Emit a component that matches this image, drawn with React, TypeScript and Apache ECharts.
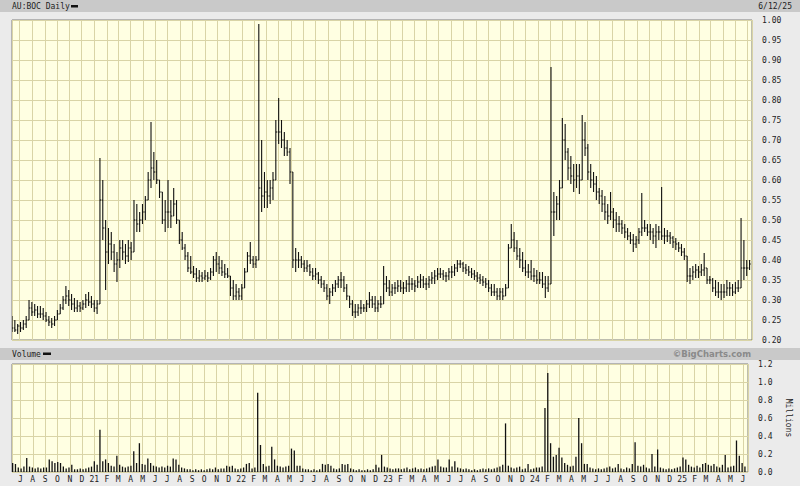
import React, { useEffect, useRef } from "react";
import * as echarts from "echarts";

// Weekly bars (week 0 = 2020-06-12, step 7 days)
const weekHigh = [
  0.26, 0.25, 0.24, 0.245, 0.25, 0.26, 0.30, 0.295, 0.29, 0.285,
  0.285, 0.28, 0.27, 0.26, 0.255, 0.26, 0.275, 0.29, 0.31, 0.335,
  0.325, 0.315, 0.305, 0.30, 0.295, 0.30, 0.315, 0.32, 0.31, 0.30,
  0.30, 0.655, 0.60, 0.50, 0.48, 0.47, 0.44, 0.42, 0.45, 0.45,
  0.44, 0.45, 0.445, 0.55, 0.54, 0.52, 0.54, 0.56, 0.62, 0.745,
  0.67, 0.65, 0.60, 0.56, 0.55, 0.60, 0.55, 0.58, 0.55, 0.50,
  0.47, 0.44, 0.42, 0.41, 0.385, 0.38, 0.375, 0.37, 0.375, 0.37,
  0.38, 0.41, 0.42, 0.41, 0.40, 0.39, 0.38, 0.36, 0.35, 0.34,
  0.33, 0.34, 0.38, 0.42, 0.445, 0.41, 0.41, 0.99, 0.70, 0.62,
  0.60, 0.60, 0.62, 0.75, 0.805, 0.75, 0.72, 0.70, 0.68, 0.60,
  0.43, 0.42, 0.41, 0.40, 0.40, 0.39, 0.38, 0.38, 0.37, 0.36,
  0.35, 0.34, 0.33, 0.34, 0.35, 0.36, 0.37, 0.36, 0.34, 0.31,
  0.30, 0.29, 0.29, 0.30, 0.29, 0.30, 0.32, 0.31, 0.31, 0.30,
  0.31, 0.385, 0.36, 0.35, 0.34, 0.345, 0.35, 0.35, 0.345, 0.35,
  0.36, 0.355, 0.35, 0.36, 0.365, 0.36, 0.355, 0.36, 0.37, 0.375,
  0.38, 0.38, 0.375, 0.37, 0.38, 0.385, 0.39, 0.40, 0.40, 0.395,
  0.39, 0.385, 0.38, 0.375, 0.37, 0.365, 0.36, 0.355, 0.35, 0.34,
  0.34, 0.33, 0.33, 0.33, 0.34, 0.44, 0.49, 0.47, 0.45, 0.43,
  0.42, 0.40, 0.39, 0.40, 0.38, 0.375, 0.37, 0.37, 0.36, 0.36,
  0.8825, 0.57, 0.56, 0.60, 0.755, 0.74, 0.68, 0.66, 0.64, 0.64,
  0.64, 0.7625, 0.745, 0.69, 0.64, 0.62, 0.61, 0.58, 0.575, 0.56,
  0.54, 0.57, 0.53, 0.52, 0.51, 0.50, 0.49, 0.48, 0.47, 0.465,
  0.46, 0.48, 0.5675, 0.50, 0.49, 0.49, 0.48, 0.49, 0.485, 0.5825,
  0.48, 0.475, 0.47, 0.46, 0.455, 0.445, 0.44, 0.43, 0.40, 0.38,
  0.385, 0.39, 0.385, 0.39, 0.4175, 0.37, 0.36, 0.355, 0.35, 0.345,
  0.34, 0.34, 0.35, 0.345, 0.34, 0.345, 0.35, 0.505, 0.45, 0.40, 0.40,
];
const weekLow = [
  0.22, 0.22, 0.215, 0.22, 0.225, 0.23, 0.25, 0.26, 0.26, 0.255,
  0.255, 0.25, 0.245, 0.235, 0.23, 0.235, 0.255, 0.265, 0.275, 0.29,
  0.285, 0.275, 0.27, 0.27, 0.27, 0.275, 0.28, 0.285, 0.28, 0.27,
  0.265, 0.29, 0.45, 0.325, 0.39, 0.40, 0.37, 0.345, 0.38, 0.40,
  0.39, 0.395, 0.40, 0.43, 0.47, 0.47, 0.49, 0.50, 0.55, 0.58,
  0.60, 0.59, 0.555, 0.49, 0.47, 0.48, 0.48, 0.51, 0.49, 0.44,
  0.425, 0.40, 0.37, 0.365, 0.355, 0.345, 0.345, 0.345, 0.35, 0.345,
  0.35, 0.36, 0.37, 0.365, 0.36, 0.355, 0.355, 0.31, 0.30, 0.30,
  0.30, 0.30, 0.33, 0.37, 0.39, 0.38, 0.38, 0.40, 0.52, 0.53,
  0.53, 0.54, 0.55, 0.60, 0.69, 0.68, 0.66, 0.66, 0.59, 0.38,
  0.37, 0.38, 0.38, 0.37, 0.37, 0.36, 0.35, 0.35, 0.34, 0.33,
  0.32, 0.30, 0.29, 0.31, 0.32, 0.33, 0.33, 0.32, 0.30, 0.28,
  0.26, 0.255, 0.26, 0.265, 0.27, 0.27, 0.28, 0.28, 0.27, 0.27,
  0.28, 0.30, 0.32, 0.31, 0.31, 0.315, 0.32, 0.32, 0.315, 0.32,
  0.32, 0.325, 0.32, 0.33, 0.33, 0.33, 0.325, 0.33, 0.34, 0.34,
  0.35, 0.355, 0.35, 0.345, 0.35, 0.355, 0.36, 0.37, 0.38, 0.37,
  0.365, 0.36, 0.355, 0.35, 0.345, 0.34, 0.335, 0.33, 0.32, 0.31,
  0.31, 0.30, 0.30, 0.30, 0.31, 0.33, 0.43, 0.42, 0.40, 0.38,
  0.37, 0.36, 0.355, 0.35, 0.345, 0.34, 0.34, 0.33, 0.305, 0.32,
  0.42, 0.46, 0.50, 0.50, 0.63, 0.65, 0.60, 0.59, 0.57, 0.58,
  0.565, 0.64, 0.66, 0.60, 0.58, 0.57, 0.55, 0.54, 0.52, 0.50,
  0.49, 0.50, 0.48, 0.47, 0.47, 0.465, 0.455, 0.45, 0.44, 0.42,
  0.43, 0.44, 0.46, 0.47, 0.46, 0.45, 0.44, 0.43, 0.45, 0.45,
  0.44, 0.445, 0.44, 0.43, 0.425, 0.42, 0.41, 0.40, 0.345, 0.34,
  0.35, 0.355, 0.355, 0.36, 0.36, 0.34, 0.34, 0.32, 0.31, 0.305,
  0.30, 0.305, 0.31, 0.31, 0.31, 0.315, 0.32, 0.34, 0.35, 0.36, 0.375,
];
const weekClose = [
  0.23, 0.225, 0.235, 0.23, 0.24, 0.25, 0.28, 0.27, 0.275, 0.265,
  0.265, 0.26, 0.25, 0.245, 0.24, 0.25, 0.265, 0.28, 0.30, 0.31,
  0.30, 0.29, 0.28, 0.285, 0.28, 0.29, 0.30, 0.295, 0.29, 0.28,
  0.29, 0.55, 0.48, 0.42, 0.44, 0.42, 0.39, 0.40, 0.43, 0.42,
  0.41, 0.43, 0.42, 0.50, 0.49, 0.50, 0.52, 0.55, 0.60, 0.63,
  0.62, 0.60, 0.57, 0.50, 0.52, 0.52, 0.51, 0.54, 0.50, 0.45,
  0.43, 0.41, 0.38, 0.37, 0.365, 0.355, 0.36, 0.355, 0.36, 0.355,
  0.37, 0.40, 0.39, 0.38, 0.37, 0.365, 0.36, 0.33, 0.31, 0.32,
  0.31, 0.33, 0.37, 0.41, 0.40, 0.39, 0.40, 0.58, 0.56, 0.57,
  0.56, 0.58, 0.60, 0.72, 0.72, 0.70, 0.68, 0.67, 0.62, 0.40,
  0.40, 0.40, 0.39, 0.38, 0.385, 0.37, 0.36, 0.365, 0.35, 0.34,
  0.33, 0.31, 0.32, 0.33, 0.34, 0.35, 0.35, 0.33, 0.31, 0.29,
  0.27, 0.27, 0.28, 0.28, 0.28, 0.29, 0.30, 0.29, 0.28, 0.29,
  0.29, 0.34, 0.33, 0.32, 0.33, 0.33, 0.335, 0.33, 0.33, 0.34,
  0.34, 0.34, 0.335, 0.345, 0.35, 0.34, 0.34, 0.35, 0.355, 0.36,
  0.365, 0.365, 0.36, 0.36, 0.37, 0.37, 0.38, 0.39, 0.39, 0.38,
  0.375, 0.37, 0.365, 0.36, 0.355, 0.35, 0.345, 0.34, 0.33, 0.32,
  0.32, 0.31, 0.32, 0.31, 0.33, 0.43, 0.45, 0.43, 0.41, 0.40,
  0.38, 0.37, 0.37, 0.36, 0.36, 0.35, 0.35, 0.34, 0.33, 0.34,
  0.52, 0.52, 0.54, 0.58, 0.70, 0.67, 0.63, 0.61, 0.60, 0.61,
  0.60, 0.70, 0.68, 0.62, 0.60, 0.59, 0.57, 0.56, 0.54, 0.52,
  0.51, 0.52, 0.50, 0.49, 0.49, 0.48, 0.47, 0.46, 0.45, 0.44,
  0.45, 0.47, 0.48, 0.48, 0.47, 0.47, 0.46, 0.47, 0.47, 0.46,
  0.46, 0.46, 0.455, 0.445, 0.44, 0.43, 0.42, 0.41, 0.36, 0.36,
  0.37, 0.375, 0.37, 0.375, 0.38, 0.35, 0.35, 0.33, 0.32, 0.32,
  0.32, 0.32, 0.33, 0.33, 0.32, 0.33, 0.33, 0.38, 0.38, 0.38, 0.39,
];
// Volume, millions
const weekVolume = [
  0.10, 0.09, 0.05, 0.04, 0.06, 0.155, 0.06, 0.05, 0.04, 0.05,
  0.04, 0.05, 0.05, 0.14, 0.12, 0.10, 0.11, 0.10, 0.06, 0.04,
  0.05, 0.08, 0.03, 0.03, 0.04, 0.03, 0.04, 0.05, 0.06, 0.12,
  0.08, 0.47, 0.12, 0.14, 0.10, 0.07, 0.06, 0.18, 0.08, 0.06,
  0.05, 0.06, 0.07, 0.23, 0.10, 0.32, 0.09, 0.08, 0.15, 0.10,
  0.07, 0.06, 0.05, 0.06, 0.05, 0.07, 0.06, 0.15, 0.14, 0.08,
  0.05, 0.04, 0.03, 0.03, 0.02, 0.03, 0.02, 0.03, 0.02, 0.03,
  0.04, 0.03, 0.05, 0.03, 0.04, 0.04, 0.07, 0.06, 0.07, 0.04,
  0.03, 0.04, 0.05, 0.09, 0.10, 0.04, 0.05, 0.88, 0.30, 0.09,
  0.06, 0.07, 0.28, 0.14, 0.07, 0.06, 0.05, 0.06, 0.07, 0.26,
  0.24, 0.07, 0.07, 0.04, 0.03, 0.03, 0.02, 0.03, 0.02, 0.03,
  0.09, 0.08, 0.09, 0.07, 0.04, 0.03, 0.04, 0.09, 0.08, 0.09,
  0.04, 0.03, 0.02, 0.03, 0.02, 0.02, 0.03, 0.02, 0.03, 0.08,
  0.05, 0.19, 0.06, 0.05, 0.04, 0.03, 0.04, 0.04, 0.03, 0.04,
  0.05, 0.03, 0.04, 0.05, 0.03, 0.04, 0.03, 0.04, 0.05, 0.06,
  0.07, 0.14, 0.06, 0.05, 0.05, 0.14, 0.06, 0.12, 0.05, 0.04,
  0.03, 0.04, 0.03, 0.02, 0.03, 0.02, 0.03, 0.04, 0.03, 0.04,
  0.03, 0.04, 0.05, 0.06, 0.08, 0.54, 0.07, 0.05, 0.04, 0.05,
  0.06, 0.03, 0.04, 0.09, 0.03, 0.04, 0.05, 0.05, 0.06, 0.71,
  1.10, 0.32, 0.17, 0.19, 0.27, 0.16, 0.10, 0.08, 0.06, 0.07,
  0.17, 0.60, 0.32, 0.09, 0.09, 0.05, 0.04, 0.03, 0.04, 0.03,
  0.04, 0.05, 0.06, 0.04, 0.05, 0.09, 0.04, 0.03, 0.05, 0.04,
  0.09, 0.33, 0.07, 0.06, 0.08, 0.05, 0.04, 0.20, 0.06, 0.25,
  0.05, 0.04, 0.03, 0.04, 0.03, 0.04, 0.05, 0.06, 0.16, 0.14,
  0.08, 0.06, 0.05, 0.07, 0.05, 0.09, 0.10, 0.08, 0.07, 0.09,
  0.06, 0.05, 0.08, 0.19, 0.05, 0.06, 0.07, 0.35, 0.18, 0.10, 0.06,
];
const monthLetters = ["J", "F", "M", "A", "M", "J", "J", "A", "S", "O", "N", "D"];
const titleText = "AU:BOC Daily";
const dateText = "6/12/25";
const volumeTitle = "Volume";
const creditText = "\u00A9BigCharts.com";
const volumeUnit = "Millions";

const FONT = "'DejaVu Sans Mono', monospace";

export default function App() {
  const ref = useRef<HTMLDivElement>(null);
  useEffect(() => {
    document.body.style.margin = "0";
    if (!ref.current) return;
    const chart = echarts.init(ref.current, undefined, { renderer: "svg" });
    const dates = weekHigh.map((_, i) => new Date(2020, 5, 12 + 7 * i).getTime());
    const ohlc = dates.map((t, i) => [
      t,
      i === 0 ? weekClose[0] : weekClose[i - 1],
      weekHigh[i],
      weekLow[i],
      weekClose[i],
    ]);
    const vol = dates.map((t, i) => [t, weekVolume[i]]);
    const minT = new Date(2020, 5, 12).getTime();
    const maxT = new Date(2025, 5, 12).getTime();
    const DAY = 86400000;
    const gridLine = { show: true, lineStyle: { color: "#d9d4a6", width: 1 } };
    const baseX = {
      type: "time" as const,
      min: minT,
      max: maxT,
      minInterval: 28 * DAY,
      maxInterval: 31 * DAY,
      axisLine: { show: false },
      axisTick: { show: false },
      splitLine: gridLine,
    };
    chart.setOption({
      animation: false,
      backgroundColor: "#ebebeb",
      grid: [
        { left: 12, right: 48, top: 20, height: 320, show: true, backgroundColor: "#ffffe2", borderColor: "#7c7c7c", borderWidth: 1 },
        { left: 12, right: 48, top: 364, height: 108, show: true, backgroundColor: "#ffffe2", borderColor: "#7c7c7c", borderWidth: 1 },
      ],
      xAxis: [
        { ...baseX, gridIndex: 0, axisLabel: { show: false } },
        {
          ...baseX,
          gridIndex: 1,
          axisLabel: {
            show: true,
            margin: 3,
            fontFamily: FONT,
            fontSize: 8,
            color: "#222",
            formatter: (v: number) => {
              const d = new Date(v);
              return d.getMonth() === 0 ? String(d.getFullYear()).slice(2) : monthLetters[d.getMonth()];
            },
          },
        },
      ],
      yAxis: [
        {
          type: "value",
          gridIndex: 0,
          position: "right",
          min: 0.2,
          max: 1.0,
          interval: 0.05,
          axisLine: { show: false },
          axisTick: { show: false },
          splitLine: gridLine,
          axisLabel: { margin: 10, fontFamily: FONT, fontSize: 8, color: "#222", formatter: (v: number) => v.toFixed(2) },
        },
        {
          type: "value",
          gridIndex: 1,
          position: "right",
          min: 0,
          max: 1.2,
          interval: 0.2,
          name: volumeUnit,
          nameLocation: "middle",
          nameRotate: -90,
          nameGap: 36,
          nameTextStyle: { fontFamily: FONT, fontSize: 8, color: "#222" },
          axisLine: { show: false },
          axisTick: { show: false },
          splitLine: gridLine,
          axisLabel: { margin: 10, fontFamily: FONT, fontSize: 8, color: "#222", formatter: (v: number) => v.toFixed(1) },
        },
      ],
      series: [
        {
          type: "custom",
          xAxisIndex: 0,
          yAxisIndex: 0,
          clip: true,
          encode: { x: 0, y: [1, 2, 3, 4] },
          data: ohlc,
          renderItem: (_params: any, api: any) => {
            const t = api.value(0);
            const o = api.value(1);
            const h = api.value(2);
            const l = api.value(3);
            const c = api.value(4);
            const top = api.coord([t, Math.max(h, o)]);
            const bot = api.coord([t, Math.min(l, o)]);
            const po = api.coord([t, o]);
            const pc = api.coord([t, c]);
            const style = { stroke: "#111", lineWidth: 1.1 };
            return {
              type: "group",
              children: [
                { type: "line", shape: { x1: top[0], y1: top[1], x2: bot[0], y2: bot[1] }, style },
                { type: "line", shape: { x1: po[0] - 1, y1: po[1], x2: po[0], y2: po[1] }, style },
                { type: "line", shape: { x1: pc[0], y1: pc[1], x2: pc[0] + 1.2, y2: pc[1] }, style },
              ],
            };
          },
        },
        {
          type: "bar",
          xAxisIndex: 1,
          yAxisIndex: 1,
          barWidth: 1.3,
          itemStyle: { color: "#111" },
          data: vol,
        },
      ],
      graphic: [
        { type: "rect", shape: { x: 0, y: 0, width: 800, height: 12 }, style: { fill: "#c9c9c9" }, z: -1 },
        { type: "rect", shape: { x: 0, y: 348, width: 800, height: 12 }, style: { fill: "#c9c9c9" }, z: -1 },
        { type: "text", x: 12, y: 6.5, style: { text: titleText, font: `8px ${FONT}`, fill: "#222", verticalAlign: "middle" } },
        { type: "rect", shape: { x: 71, y: 5, width: 7, height: 2.5 }, style: { fill: "#111" } },
        { type: "text", x: 792, y: 6.5, style: { text: dateText, font: `8px ${FONT}`, fill: "#222", align: "right", verticalAlign: "middle" } },
        { type: "text", x: 12, y: 354, style: { text: volumeTitle, font: `8px ${FONT}`, fill: "#222", verticalAlign: "middle" } },
        { type: "rect", shape: { x: 43, y: 352.5, width: 8, height: 2.5 }, style: { fill: "#111" } },
        { type: "text", x: 751, y: 354, style: { text: creditText, font: `bold 8.5px 'DejaVu Sans', sans-serif`, fill: "#8a8a8a", align: "right", verticalAlign: "middle" } },
      ],
    });
    return () => chart.dispose();
  }, []);
  return <div ref={ref} style={{ width: 800, height: 486 }} />;
}
